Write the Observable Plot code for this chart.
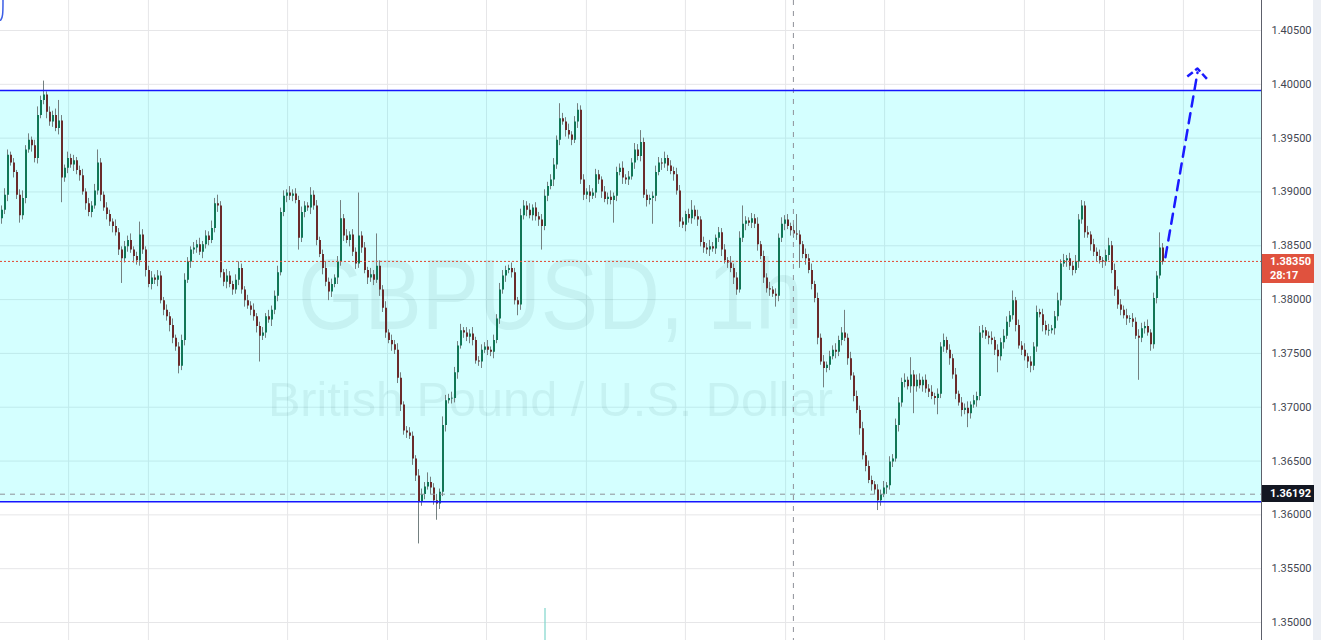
<!DOCTYPE html>
<html><head><meta charset="utf-8">
<script src="https://cdn.jsdelivr.net/npm/d3@7"></script>
<script src="https://cdn.jsdelivr.net/npm/@observablehq/plot@0.6"></script>
<style>
html,body{margin:0;padding:0;background:#fff;overflow:hidden}
#wrap{position:relative;width:1321px;height:640px;overflow:hidden}
#wrap svg{position:absolute;left:0;top:0}
.tag{position:absolute;left:1262px;width:52px;color:#fff;font:bold 11px Roboto,"Liberation Sans",sans-serif;padding-left:8px;box-sizing:border-box;line-height:14px}
#strip{position:absolute;left:1313px;top:0;width:8px;height:640px;background:#eceff4}
</style></head><body><div id="wrap"><div id="strip"></div></div>
<script>
// ---- data (prices in pips = price * 10000) ----
const firstOpen = 13875;
const closePips = [
13883,13897,13934,13927,13918,13897,13878,13894,13939,13948,13943,13931,13971,13985,13990,13974,13965,13971,13959,13966,
13913,13922,13931,13925,13929,13920,13915,13900,13889,13881,13887,13901,13927,13897,13885,13879,13872,13868,13862,13846,
13838,13849,13855,13846,13840,13836,13860,13846,13827,13814,13820,13818,13822,13799,13790,13784,13776,13764,13756,13738,
13762,13818,13835,13846,13848,13851,13844,13851,13859,13855,13866,13889,13887,13825,13816,13822,13814,13809,13818,13829,
13809,13799,13794,13790,13784,13775,13766,13769,13784,13781,13790,13803,13825,13881,13896,13899,13896,13898,13892,13857,
13881,13887,13885,13897,13887,13855,13842,13829,13816,13807,13814,13820,13835,13875,13859,13855,13860,13844,13833,13859,
13848,13827,13820,13823,13818,13831,13809,13792,13769,13762,13758,13753,13727,13702,13678,13676,13673,13652,13636,13612,
13619,13626,13630,13625,13613,13610,13621,13683,13706,13708,13708,13732,13757,13771,13769,13765,13768,13762,13743,13742,
13753,13756,13753,13751,13762,13782,13809,13822,13827,13829,13825,13799,13795,13878,13887,13883,13878,13885,13877,13874,
13868,13896,13905,13911,13925,13948,13968,13965,13957,13953,13948,13965,13976,13911,13897,13900,13896,13899,13916,13911,
13900,13893,13895,13892,13896,13918,13922,13913,13911,13914,13927,13939,13933,13946,13897,13892,13894,13896,13918,13927,
13926,13931,13924,13919,13916,13901,13872,13869,13879,13875,13883,13877,13874,13853,13848,13846,13849,13847,13857,13862,
13846,13836,13834,13829,13820,13809,13857,13870,13873,13871,13875,13870,13851,13840,13820,13810,13809,13805,13803,13857,
13870,13874,13868,13864,13861,13860,13851,13842,13838,13827,13814,13801,13764,13742,13736,13739,13747,13753,13751,13762,
13769,13764,13745,13729,13710,13697,13680,13655,13645,13632,13628,13623,13613,13619,13625,13627,13649,13652,13683,13704,
13723,13725,13719,13730,13719,13725,13720,13725,13717,13714,13710,13708,13712,13756,13762,13753,13745,13730,13712,13704,
13697,13699,13694,13702,13706,13710,13769,13771,13766,13764,13762,13753,13747,13760,13766,13779,13785,13799,13776,13757,
13753,13747,13742,13738,13756,13788,13786,13776,13771,13771,13773,13784,13799,13833,13836,13838,13831,13827,13835,13874,
13887,13862,13860,13851,13844,13840,13836,13835,13841,13850,13827,13809,13795,13790,13785,13782,13782,13779,13766,13764,
13773,13775,13769,13758,13801,13822,13848,13835];
const upperWick = [
4,6,5,3,4,2,5,7,4,6,3,5,8,4,13,3,5,4,6,19,
5,3,6,4,5,3,4,6,3,5,4,6,12,4,3,5,4,3,6,4,
3,5,4,6,3,4,12,5,3,4,6,3,5,4,3,5,4,6,3,4,
5,6,4,3,5,4,6,3,5,4,7,5,8,4,3,6,4,3,5,6,
4,3,5,4,6,3,4,5,3,6,4,5,6,4,5,3,6,4,5,4,
5,4,3,7,4,5,3,4,6,4,5,3,5,17,4,6,3,5,4,40,
4,5,3,6,4,30,5,4,6,3,5,4,6,5,3,4,5,4,3,6,
5,4,9,5,4,6,3,8,5,4,6,5,4,6,3,5,4,6,3,4,
5,4,6,3,5,4,6,5,4,3,5,4,3,6,5,4,6,3,5,4,
5,6,4,5,6,4,14,5,4,6,3,5,6,4,5,3,6,4,5,4,
3,5,4,6,3,5,4,6,3,5,4,6,5,11,4,5,3,4,6,5,
4,6,3,5,4,6,5,4,3,5,9,4,6,3,5,4,6,4,3,5,
4,5,3,6,4,5,6,17,4,3,5,4,6,3,5,4,6,3,5,4,
6,4,5,3,6,18,4,3,5,4,6,3,5,4,6,3,5,4,6,4,
5,21,4,6,3,5,4,6,3,5,4,3,5,4,6,3,5,4,6,5,
4,6,3,16,4,5,6,3,5,4,6,3,5,4,6,3,5,4,6,3,
5,4,6,3,5,4,6,5,3,4,6,3,5,4,6,5,4,9,3,5,
4,6,3,5,4,6,3,5,4,6,3,5,7,4,6,3,5,4,6,5,
5,4,6,3,5,4,6,3,5,7,4,6,3,5,4,6,3,5,4,6,
5,4,6,3,5,4,14,4];
const lowerWick = [
5,4,6,3,5,4,7,4,5,3,6,4,5,3,4,6,4,5,3,6,
23,4,5,3,6,4,5,3,6,4,5,3,4,6,3,5,4,6,3,5,
23,4,5,3,6,4,5,4,6,3,5,4,6,3,5,4,6,5,4,7,
4,5,3,6,4,5,3,6,4,5,3,4,6,5,4,6,3,5,4,5,
4,6,3,5,4,6,24,4,5,3,6,4,5,3,4,6,4,5,3,11,
4,5,3,6,4,5,3,6,4,8,5,3,6,4,5,3,6,4,5,4,
5,3,6,4,5,3,6,4,5,3,6,4,5,6,4,5,3,6,5,39,
4,5,3,6,4,15,5,4,6,3,5,4,6,3,5,4,6,5,3,4,
6,3,5,4,6,3,5,4,6,3,5,4,10,5,4,6,3,5,4,6,
22,4,5,3,6,4,5,3,6,4,5,3,6,4,5,4,6,3,5,4,
6,3,5,4,21,5,3,6,4,5,3,6,4,5,3,6,4,24,5,3,
6,4,5,3,6,4,5,3,6,4,5,3,6,4,5,4,6,3,5,4,
6,3,5,4,6,5,3,4,6,3,5,4,6,3,5,4,6,3,10,5,
4,6,3,5,4,5,22,4,6,3,5,4,6,3,18,4,5,3,6,4,
5,3,6,4,5,3,6,4,5,3,6,4,9,5,3,6,4,5,3,6,
4,5,3,6,25,5,3,6,4,5,3,6,15,4,5,3,6,4,5,3,
6,4,13,5,3,6,4,5,3,6,4,5,15,4,6,3,5,4,6,3,
5,4,6,6,4,5,3,6,4,5,3,6,4,5,3,6,4,5,3,6,
4,5,3,6,4,5,3,6,4,5,3,6,4,5,3,6,4,5,3,39,
4,5,3,6,4,5,3,3];
const priceTicks = [1.350,1.355,1.360,1.365,1.370,1.375,1.380,1.385,1.390,1.395,1.400,1.405];
const dayTicks = [22.2,48.8,95.2,128.5,161.5,194.8,227.8,261.2,294.2,340.8,367.5,393.8];
const rangeZone = {low: 1.36123, high: 1.39943};
const lastPrice = 1.38350, lastTimer = "28:17";
const crossPrice = 1.36192, crossIndex = 263.8;
const projection = [{i: 387.8, p: 1.38394}, {i: 398.5, p: 1.40110}];
const projectionHead = [{i: 395.1, p: 1.40073}, {i: 398.5, p: 1.40147}, {i: 401.8, p: 1.40045}];
const volumeSpike = [{i: 181, top: 1.3513}];
const cornerMark = [{i: 0.33, p: 1.4079}, {i: 0.33, p: 1.40625}, {i: -0.5, p: 1.40595}];
const watermark = [
  {text: "GBPUSD, 1h", i: 182.8, p: 1.38020, size: 100, len: 505},
  {text: "British Pound / U.S. Dollar", i: 182.8, p: 1.37063, size: 48, len: 565}
];
const yDomain = [1.348328, 1.407787];

// ---- build candles ----
const candles = closePips.map((c, i) => {
  const open = (i === 0 ? firstOpen : closePips[i - 1]) / 1e4;
  const close = c / 1e4;
  let bLo = Math.min(open, close), bHi = Math.max(open, close);
  const high = bHi + upperWick[i] / 1e4, low = bLo - lowerWick[i] / 1e4;
  if (bHi - bLo < 0.00009) { const m = (bHi + bLo) / 2; bLo = m - 0.000045; bHi = m + 0.000045; }
  return {i, open, close, high, low, bLo, bHi, up: close >= open};
});

const xMax = 1261 / 3 - 0.5;
const plot = Plot.plot({
  width: 1321, height: 640,
  marginLeft: 0, marginRight: 60, marginTop: 0, marginBottom: 0,
  style: {background: "transparent", fontFamily: "Roboto, 'Liberation Sans', sans-serif", fontSize: "11px", color: "#434651", overflow: "visible"},
  x: {domain: [-0.5, xMax], axis: null},
  y: {domain: yDomain, axis: null},
  marks: [
    Plot.ruleY(priceTicks, {stroke: "#e6e6e8", strokeWidth: 1}),
    Plot.ruleX(dayTicks, {stroke: "#e6e6e8", strokeWidth: 1}),
    Plot.rect([rangeZone], {x1: () => -0.5, x2: () => xMax, y1: "low", y2: "high", fill: "#00ffff", fillOpacity: 0.17}),
    Plot.text(watermark, {x: "i", y: "p", text: "text", fontSize: d => d.size, fill: "#1a5555", fillOpacity: 0.075, fontFamily: "'Liberation Sans', Arial, sans-serif"}),
    Plot.ruleX(volumeSpike, {x: "i", y1: "top", y2: () => yDomain[0], stroke: "#7fd6cb", strokeWidth: 1.2}),
    Plot.ruleX(candles, {x: "i", y1: "low", y2: "high", stroke: "#748080", strokeWidth: 1, dx: -0.5}),
    Plot.ruleX(candles, {x: "i", y1: "bLo", y2: "bHi", stroke: d => d.up ? "#127656" : "#6a2b2b", strokeWidth: 2}),
    Plot.ruleY([lastPrice], {stroke: "#e2462f", strokeWidth: 1, strokeDasharray: "2,2", dy: -0.5}),
    Plot.ruleY([crossPrice], {stroke: "#8e9199", strokeWidth: 1, strokeDasharray: "5,5"}),
    Plot.ruleX([crossIndex], {stroke: "#8e9199", strokeWidth: 1, strokeDasharray: "5,6"}),
    Plot.ruleY([rangeZone.low, rangeZone.high], {stroke: "#1515ff", strokeWidth: 1.5}),
    Plot.line(cornerMark, {x: "i", y: "p", stroke: "#3c5ee6", strokeWidth: 1.5, curve: "basis"}),
    Plot.line(projection, {x: "i", y: "p", stroke: "#1a1aff", strokeWidth: 2.5, strokeDasharray: "10,7"}),
    Plot.line(projectionHead, {x: "i", y: "p", stroke: "#1a1aff", strokeWidth: 2.5, strokeDasharray: "7,3", strokeLinecap: "butt"}),
    Plot.ruleX([xMax], {stroke: "#5d606b", strokeWidth: 1}),
    Plot.text(priceTicks, {x: () => xMax, y: d => d, text: d => d.toFixed(5), dx: 10, textAnchor: "start", fill: "#434651", fontSize: 11})
  ]
});
const wrap = document.getElementById("wrap");
wrap.insertBefore(plot, wrap.firstChild);

// stretch watermark text to the widths seen in the chart
d3.select(plot).selectAll("text").each(function() {
  const w = watermark.find(d => d.text === this.textContent);
  if (w) { this.setAttribute("textLength", w.len); this.setAttribute("lengthAdjust", "spacingAndGlyphs"); }
});

// price tags on the scale
const ys = plot.scale("y");
const yLast = ys.apply(lastPrice), yCross = ys.apply(crossPrice);
const red = document.createElement("div");
red.className = "tag";
red.style.cssText = `top:${yLast - 7}px;height:29px;background:#e0523e;padding-top:1px`;
red.innerHTML = `${lastPrice.toFixed(5)}<br>${lastTimer}`;
wrap.appendChild(red);
const blk = document.createElement("div");
blk.className = "tag";
blk.style.cssText = `top:${yCross - 8.5}px;height:17px;background:#131722;line-height:17px`;
blk.textContent = crossPrice.toFixed(5);
wrap.appendChild(blk);
</script></body></html>
